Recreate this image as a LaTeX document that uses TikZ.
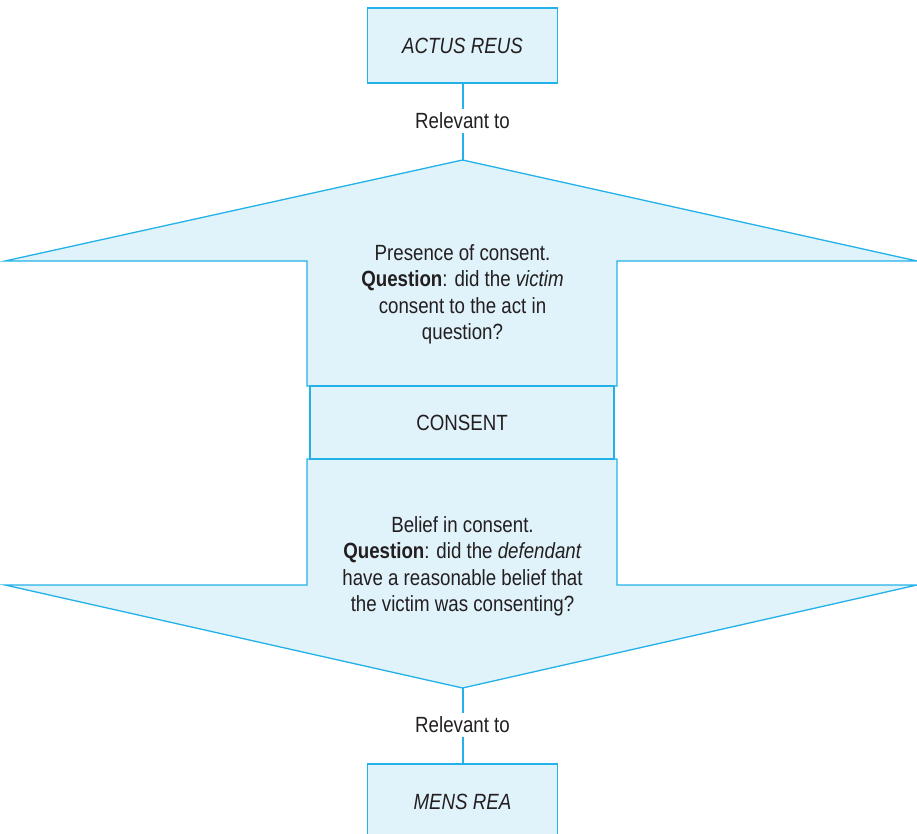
\documentclass[tikz,border=0pt]{standalone}
\usepackage{fontspec}
\setmainfont{Liberation Sans}[FakeStretch=0.85]
\usetikzlibrary{positioning}
\definecolor{lineblue}{HTML}{22B2E8}
\definecolor{paleblue}{HTML}{E0F2FA}
\definecolor{inkgrey}{HTML}{231F20}

\begin{document}
\begin{tikzpicture}[x=1pt,y=-1pt,
    every node/.style={text=inkgrey,font=\fontsize{22}{26.5}\selectfont},
    element/.style={draw=lineblue,fill=paleblue,line width=1.3pt,
      minimum width=190pt,minimum height=75pt,inner sep=0pt},
    arrowshape/.style={draw=lineblue,fill=paleblue,line width=1.3pt,line join=miter},
    link/.style={draw=lineblue,line width=2pt}]
   \clip (0,0) rectangle (917,834);
   \useasboundingbox (0,0) rectangle (917,834);

   % upper arrow: presence of consent
   \coordinate (up_tip) at (462.5,160);
   \draw[arrowshape] (up_tip) -- (917,261) -- (617,261) -- (617,386)
     -- (307,386) -- (307,261) -- (5,261) -- cycle;
   \node[align=center] (presence) at (462.5,294.5) {Presence of consent.\\
     \textbf{Question}: did the \textit{victim}\\consent to the act in\\question?};

   % lower arrow: belief in consent
   \coordinate (down_tip) at (462.5,688);
   \draw[arrowshape] (307,459) -- (617,459) -- (617,585) -- (917,585)
     -- (down_tip) -- (5,585) -- (307,585) -- cycle;
   \node[align=center] (belief) at (462.5,566.5) {Belief in consent.\\
     \textbf{Question}: did the \textit{defendant}\\have a reasonable belief that\\the victim was consenting?};

   \node[element,minimum width=304pt,minimum height=73pt] (consent) at (462,422.5) {CONSENT};

   \node[element,font=\fontsize{22}{26.5}\selectfont\itshape] (actus) at (462.5,45.5) {ACTUS REUS};
   \node[element,font=\fontsize{22}{26.5}\selectfont\itshape] (mens) at (462.5,801.5) {MENS REA};

   \node (rel_up) at (462.5,121) {Relevant to};
   \node (rel_down) at (462.5,725) {Relevant to};

   \path[link] (actus.south) -- (rel_up.north);
   \path[link] (rel_up.south) -- (up_tip);
   \path[link] (down_tip) -- (rel_down.north);
   \path[link] (rel_down.south) -- (mens.north);
\end{tikzpicture}
\end{document}
